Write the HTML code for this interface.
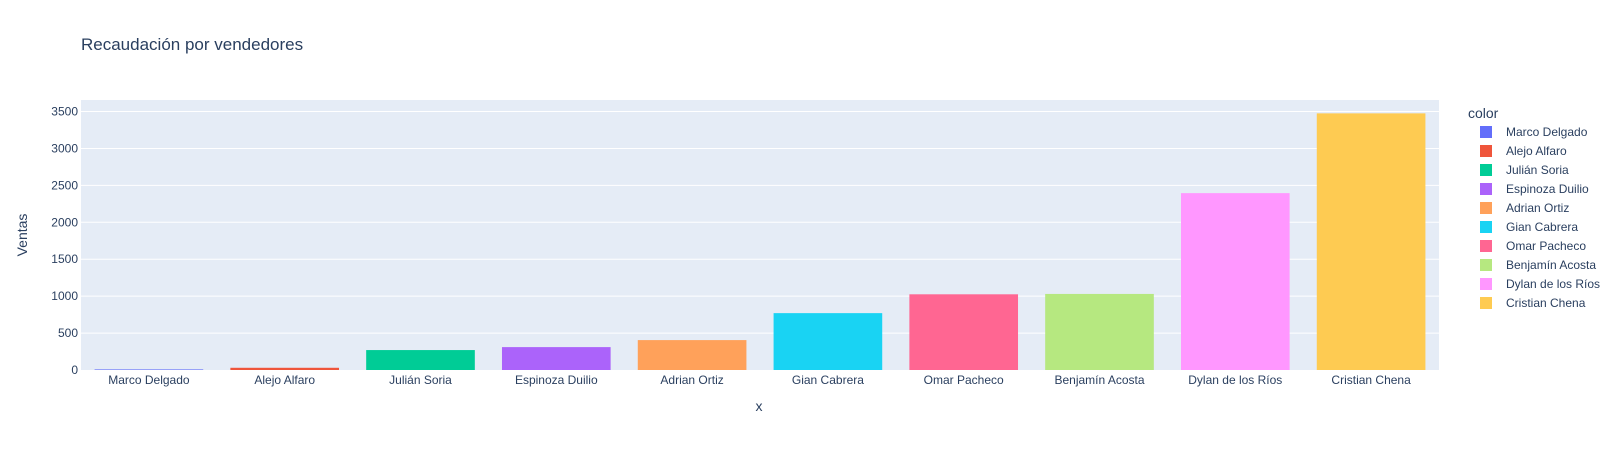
<!DOCTYPE html>
<html><head><meta charset="utf-8"><style>
body{margin:0;background:#fff;font-family:"Liberation Sans",sans-serif;}
svg text{font-family:"Liberation Sans",sans-serif;fill:#2a3f5f;}
</style></head><body>
<svg id="chart" width="1618" height="450">
<text x="81" y="50" font-size="17">Recaudación por vendedores</text>
<rect x="81" y="100" width="1358" height="270" fill="#e5ecf6"/>
<g id="grid"></g><g id="bars"></g><g id="ticks"></g>
<text x="759" y="411" font-size="14" text-anchor="middle">x</text>
<text transform="translate(27,235) rotate(-90)" font-size="14" text-anchor="middle">Ventas</text>
<text x="1468" y="118" font-size="14">color</text>
<g id="legend"></g>
</svg>
<script>
const categories=["Marco Delgado","Alejo Alfaro","Julián Soria","Espinoza Duilio","Adrian Ortiz","Gian Cabrera","Omar Pacheco","Benjamín Acosta","Dylan de los Ríos","Cristian Chena"];
const values=[8,30,270,310,405,770,1025,1030,2395,3475];
const colors=["#636efa","#EF553B","#00cc96","#ab63fa","#FFA15A","#19d3f3","#FF6692","#B6E880","#FF97FF","#FECB52"];
const yTicks=[0,500,1000,1500,2000,2500,3000,3500];
const NS="http://www.w3.org/2000/svg";
const x0=81,w=1358,yb=370,yt=100,ymax=3656;
const y=v=>yb-(v/ymax)*(yb-yt);
const band=w/categories.length;
function mk(t,a,p){const e=document.createElementNS(NS,t);for(const k in a)e.setAttribute(k,a[k]);p.appendChild(e);return e;}
const g=document.getElementById('grid'),b=document.getElementById('bars'),tk=document.getElementById('ticks'),lg=document.getElementById('legend');
yTicks.forEach(t=>{
 if(t>0){const l=mk('line',{x1:x0,x2:x0+w,y1:y(t),y2:y(t),stroke:'#fff','stroke-width':1},g);
 
 }
 const tx=mk('text',{x:x0-3,y:y(t)+4,'font-size':12,'text-anchor':'end'},tk);tx.textContent=t;
 
 
});
categories.forEach((c,i)=>{
 const cx=x0+band*(i+0.5),bw=band*0.8;
 const r=mk('rect',{x:cx-bw/2,y:y(values[i]),width:bw,height:yb-y(values[i]),fill:colors[i]},b);
 
 
 const tx=mk('text',{x:cx,y:yb+14,'font-size':12,'text-anchor':'middle'},tk);tx.textContent=c;
 
 
 const ly=132+i*19;
 const s=mk('rect',{x:1480,y:ly-6,width:12,height:12,fill:colors[i]},lg);
 
 
 const lt=mk('text',{x:1506,y:ly+4,'font-size':12},lg);lt.textContent=c;
 
 
});
</script>
</body></html>
